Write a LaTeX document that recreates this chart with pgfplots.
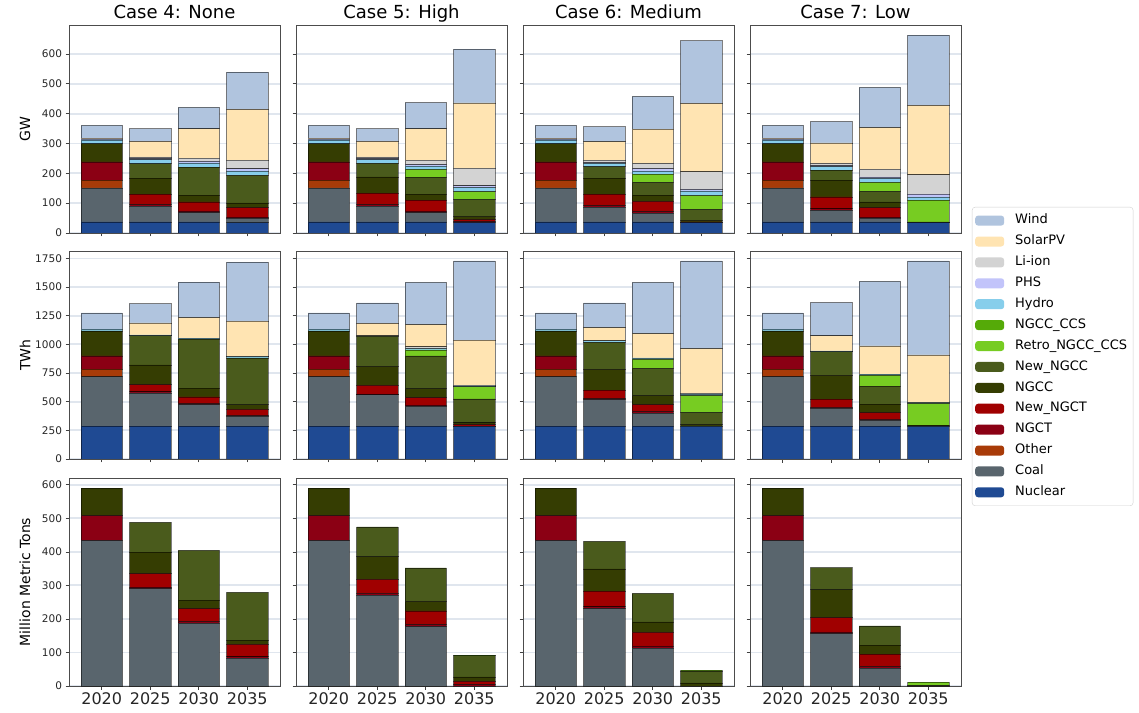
\documentclass[border=0pt]{standalone}
\usepackage{fontspec}
\setmainfont{DejaVu Sans}
\usepackage{pgfplots}
\usepackage{pgfplotstable}
\pgfplotsset{compat=1.18}

\definecolor{cWind}{HTML}{B0C4DE}
\definecolor{cSolar}{HTML}{FFE4B2}
\definecolor{cLiion}{HTML}{D3D3D3}
\definecolor{cPHS}{HTML}{C2C4FA}
\definecolor{cHydro}{HTML}{87CEEB}
\definecolor{cCCS}{HTML}{55AA08}
\definecolor{cRetro}{HTML}{77CC22}
\definecolor{cNewNGCC}{HTML}{4A5B1C}
\definecolor{cNGCC}{HTML}{353D02}
\definecolor{cNewNGCT}{HTML}{A00000}
\definecolor{cNGCT}{HTML}{8B0014}
\definecolor{cOther}{HTML}{A83B08}
\definecolor{cCoal}{HTML}{59656D}
\definecolor{cNuclear}{HTML}{1F4A93}
\definecolor{gridc}{HTML}{E0E6EE}

% columns: x Nuclear Coal Other NGCT NewNGCT NGCC NewNGCC Retro CCS Hydro PHS Liion Solar Wind
\pgfplotstableread{
x Nuclear Coal Other NGCT NewNGCT NGCC NewNGCC Retro CCS Hydro PHS Liion Solar Wind
0 37 114 26 61 0 61 0 0 0 13 3 0 3 43
1 37 53 0 5 35 54 48 0 0 14 3 6 52 42
2 37 31 0 6 30 23 94 0 0 14 5 11 98 72
3 35 14 0 5 31 16 92 0 0 15 7 29 170 125
}\gwA
\pgfplotstableread{
x Nuclear Coal Other NGCT NewNGCT NGCC NewNGCC Retro CCS Hydro PHS Liion Solar Wind
0 37 114 26 61 0 61 0 0 0 13 3 0 3 43
1 37 53 0 5 39 54 45 0 0 13 3 6 52 42
2 37 31 0 5 37 20 57 26 0 12 4 15 105 88
3 35 0 0 3 7 11 56 27 0 14 5 59 219 180
}\gwB
\pgfplotstableread{
x Nuclear Coal Other NGCT NewNGCT NGCC NewNGCC Retro CCS Hydro PHS Liion Solar Wind
0 37 114 26 61 0 61 0 0 0 13 3 0 3 43
1 37 50 0 5 38 54 38 0 0 11 3 8 62 50
2 37 30 0 5 34 21 43 27 0 11 8 17 115 110
3 35 0 0 2 0 5 36 47 0 16 5 59 229 210
}\gwC
\pgfplotstableread{
x Nuclear Coal Other NGCT NewNGCT NGCC NewNGCC Retro CCS Hydro PHS Liion Solar Wind
0 37 114 26 61 0 61 0 0 0 13 3 0 3 43
1 37 39 0 5 40 56 34 0 0 11 4 7 69 71
2 37 13 0 3 32 19 35 31 0 13 5 26 139 135
3 35 0 0 0 0 2 0 73 0 11 9 65 233 235
}\gwD

\pgfplotstableread{
x Nuclear Coal Other NGCT NewNGCT NGCC NewNGCC Retro CCS Hydro PHS Liion Solar Wind
0 287 431 65 117 0 217 0 0 0 17 0 0 0 141
1 287 290 0 9 62 173 254 0 0 7 0 0 105 167
2 287 188 0 9 58 76 428 0 0 9 0 0 179 310
3 287 85 0 6 56 41 407 0 0 12 0 6 304 513
}\twA
\pgfplotstableread{
x Nuclear Coal Other NGCT NewNGCT NGCC NewNGCC Retro CCS Hydro PHS Liion Solar Wind
0 287 431 65 117 0 217 0 0 0 17 0 0 0 141
1 287 273 0 8 74 167 260 0 0 6 0 0 109 178
2 287 173 0 12 64 79 285 52 0 12 0 15 193 369
3 284 0 0 5 10 17 208 106 0 8 0 7 392 692
}\twB
\pgfplotstableread{
x Nuclear Coal Other NGCT NewNGCT NGCC NewNGCC Retro CCS Hydro PHS Liion Solar Wind
0 287 431 65 117 0 217 0 0 0 17 0 0 0 141
1 287 232 0 8 73 182 235 0 0 14 0 0 115 216
2 287 114 0 12 62 79 237 79 0 12 0 0 211 448
3 284 0 0 0 0 15 105 150 0 12 0 8 390 765
}\twC
\pgfplotstableread{
x Nuclear Coal Other NGCT NewNGCT NGCC NewNGCC Retro CCS Hydro PHS Liion Solar Wind
0 287 431 65 117 0 217 0 0 0 17 0 0 0 141
1 287 155 0 9 71 208 205 0 0 8 0 0 132 290
2 287 50 0 9 58 74 158 94 0 11 0 0 246 563
3 284 0 0 0 0 12 0 187 0 9 0 0 416 821
}\twD

\pgfplotstableread{
x Nuclear Coal Other NGCT NewNGCT NGCC NewNGCC Retro CCS Hydro PHS Liion Solar Wind
0 0 433 0 75 0 82 0 0 0 0 0 0 0 0
1 0 290 0 5 40 64 89 0 0 0 0 0 0 0
2 0 187 0 5 39 25 148 0 0 0 0 0 0 0
3 0 83 0 4 37 13 142 0 0 0 0 0 0 0
}\emA
\pgfplotstableread{
x Nuclear Coal Other NGCT NewNGCT NGCC NewNGCC Retro CCS Hydro PHS Liion Solar Wind
0 0 433 0 75 0 82 0 0 0 0 0 0 0 0
1 0 271 0 5 42 68 88 0 0 0 0 0 0 0
2 0 177 0 6 41 28 100 0 0 0 0 0 0 0
3 0 0 0 4 10 13 63 1 0 0 0 0 0 0
}\emB
\pgfplotstableread{
x Nuclear Coal Other NGCT NewNGCT NGCC NewNGCC Retro CCS Hydro PHS Liion Solar Wind
0 0 433 0 75 0 82 0 0 0 0 0 0 0 0
1 0 231 0 5 47 66 82 0 0 0 0 0 0 0
2 0 113 0 6 41 31 85 0 0 0 0 0 0 0
3 0 0 0 0 0 9 36 3 0 0 0 0 0 0
}\emC
\pgfplotstableread{
x Nuclear Coal Other NGCT NewNGCT NGCC NewNGCC Retro CCS Hydro PHS Liion Solar Wind
0 0 433 0 75 0 82 0 0 0 0 0 0 0 0
1 0 156 0 5 43 83 66 0 0 0 0 0 0 0
2 0 53 0 5 37 27 57 0 0 0 0 0 0 0
3 0 0 0 0 0 2 0 9 0 0 0 0 0 0
}\emD

\newcommand{\panelplots}[1]{%
\addplot[fill=cNuclear] table[x=x,y=Nuclear]{#1};
\addplot[fill=cCoal] table[x=x,y=Coal]{#1};
\addplot[fill=cOther] table[x=x,y=Other]{#1};
\addplot[fill=cNGCT] table[x=x,y=NGCT]{#1};
\addplot[fill=cNewNGCT] table[x=x,y=NewNGCT]{#1};
\addplot[fill=cNGCC] table[x=x,y=NGCC]{#1};
\addplot[fill=cNewNGCC] table[x=x,y=NewNGCC]{#1};
\addplot[fill=cRetro] table[x=x,y=Retro]{#1};
\addplot[fill=cCCS] table[x=x,y=CCS]{#1};
\addplot[fill=cHydro] table[x=x,y=Hydro]{#1};
\addplot[fill=cPHS] table[x=x,y=PHS]{#1};
\addplot[fill=cLiion] table[x=x,y=Liion]{#1};
\addplot[fill=cSolar] table[x=x,y=Solar]{#1};
\addplot[fill=cWind] table[x=x,y=Wind]{#1};
}

\pgfplotsset{
 panel/.style={scale only axis, width=211pt, height=208pt, anchor=south west,
   ybar stacked, bar width=0.85,
   xmin=-0.675, xmax=3.675, ymin=0, xtick={0,1,2,3}, xticklabels={},
   tick align=outside, xtick pos=bottom, ytick pos=left,
   major tick length=3.5pt, tick style={color=black!75, line width=0.6pt},
   axis line style={color=black!70, line width=0.8pt},
   ymajorgrids, grid style={color=gridc, line width=1.8pt},
   /pgf/number format/assume math mode=true, /pgf/number format/1000 sep={},
   yticklabel style={font=\fontsize{10.5}{12}\selectfont, text=black!85},
   xticklabel style={font=\fontsize{16}{18}\selectfont, text=black!85},
   title style={font=\fontsize{18}{20}\selectfont, at={(0.5,1)}, anchor=base, yshift=0pt},
   every axis y label/.style={at={(axis description cs:-0.2085,0.5)}, rotate=90, anchor=center, font=\fontsize{14}{16}\selectfont},
   every axis plot/.append style={draw=black, draw opacity=0.5, line width=0.7pt},
 },
 rowA/.style={panel, ymax=697, ytick={0,100,...,600}},
 rowB/.style={panel, ymax=1815, ytick={0,250,...,1750}},
 rowC/.style={panel, ymax=620, ytick={0,100,...,600}, xticklabels={2020,2025,2030,2035}},
 noy/.style={yticklabels={}},
}

\begin{document}
\begin{tikzpicture}
\useasboundingbox (0pt,0pt) rectangle (1139pt,712pt);
% Row 1: GW
\begin{axis}[rowA, at={(69pt,479pt)}, title={Case 4: None}, ylabel={GW}]
\panelplots{\gwA}
\end{axis}
\begin{axis}[rowA, noy, at={(296pt,479pt)}, title={Case 5: High}]
\panelplots{\gwB}
\end{axis}
\begin{axis}[rowA, noy, at={(523pt,479pt)}, title={Case 6: Medium}]
\panelplots{\gwC}
\end{axis}
\begin{axis}[rowA, noy, at={(750pt,479pt)}, title={Case 7: Low}]
\panelplots{\gwD}
\end{axis}
% Row 2: TWh
\begin{axis}[rowB, at={(69pt,253pt)}, ylabel={TWh}]
\panelplots{\twA}
\end{axis}
\begin{axis}[rowB, noy, at={(296pt,253pt)}]
\panelplots{\twB}
\end{axis}
\begin{axis}[rowB, noy, at={(523pt,253pt)}]
\panelplots{\twC}
\end{axis}
\begin{axis}[rowB, noy, at={(750pt,253pt)},
  reverse legend,
  legend entries={Nuclear,Coal,Other,NGCT,New\_NGCT,NGCC,New\_NGCC,Retro\_NGCC\_CCS,NGCC\_CCS,Hydro,PHS,Li-ion,SolarPV,Wind},
  legend cell align=left,
  legend image code/.code={\draw[#1,draw=none] (0pt,-5pt) rectangle (29pt,5pt);},
  legend style={at={(1.052,0.493)}, anchor=west, draw=black!18, rounded corners=3pt, fill=white,
    font=\fontsize{13}{15}\selectfont, inner xsep=3pt, inner ysep=3pt,
    nodes={inner xsep=3pt, inner ysep=4.2pt, text height=9.5pt, text depth=3pt},
    /tikz/every odd column/.append style={column sep=8pt}},
]
\panelplots{\twD}
\end{axis}
% Row 3: emissions
\begin{axis}[rowC, at={(69pt,26pt)}, ylabel={Million Metric Tons}]
\panelplots{\emA}
\end{axis}
\begin{axis}[rowC, noy, at={(296pt,26pt)}]
\panelplots{\emB}
\end{axis}
\begin{axis}[rowC, noy, at={(523pt,26pt)}]
\panelplots{\emC}
\end{axis}
\begin{axis}[rowC, noy, at={(750pt,26pt)}]
\panelplots{\emD}
\end{axis}
\end{tikzpicture}
\end{document}
